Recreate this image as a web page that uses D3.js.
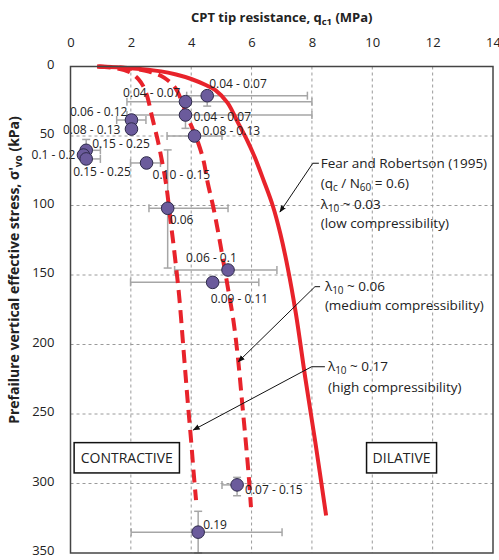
<!DOCTYPE html>
<html lang="en">
<head>
<meta charset="UTF-8">
<title>CPT tip resistance vs prefailure stress</title>
<script src="https://d3js.org/d3.v7.min.js"></script>
<style>
  body { margin: 0; background: #fff; }
  svg text { font-family: "Open Sans", sans-serif; fill: #222; }
  .grid line { stroke: #9a9a9a; stroke-dasharray: 3,3; stroke-width: 1; }
  .err { stroke: #a6a6a6; stroke-width: 1.5; fill: none; }
  .curve { fill: none; stroke: #e8232b; stroke-width: 4; }
  .curve.dash { stroke-dasharray: 13,7; }
  .pt { fill: #6b5b9c; stroke: #2e2a4a; stroke-width: 1; }
  .lbl { font-size: 12px; }
  .tick text { font-size: 13px; }
  .note { font-size: 13.5px; }
  .lead { stroke: #111; stroke-width: 1; fill: none; }
</style>
</head>
<body>
<svg width="499" height="560"></svg>
<script>
// data points (q_c1 in MPa, sigma'vo in kPa)
const ptLabels = ["0.04 - 0.07", "0.04 - 0.07", "0.04 - 0.07", "0.08 - 0.13", "0.06 - 0.12",
                  "0.08 - 0.13", "0.15 - 0.25", "0.1 - 0.2", "0.15 - 0.25", "0.10 - 0.15",
                  "0.06", "0.06 - 0.1", "0.09 - 0.11", "0.07 - 0.15", "0.19"];
const ptQc1   = [4.53, 3.81, 3.81, 4.11, 2.02, 2.02, 0.52, 0.43, 0.52, 2.52, 3.22, 5.22, 4.71, 5.52, 4.23];
const ptSigma = [21, 25.3, 34.9, 50, 38.5, 45, 60.3, 63.7, 66.5, 69.4, 102, 146.4, 155.3, 301, 335];
// error bars (null = none)
const errQLo = [3.85, 1.87, 1.87, 3.2, 1.53, null, 0.5, null, 0.5, 1.99, 2.6, 3.45, 1.99, 5.02, 2.01];
const errQHi = [7.85, 8.0, 8.0, 5.02, 2.5, null, 0.99, null, 0.99, 2.98, 5.22, 6.84, 6.24, 5.6, 7.01];
const errSLo = [21, null, 34.9, null, null, null, 52.5, null, null, null, 60, null, null, 295.6, 320];
const errSHi = [28.5, null, 44.5, null, null, null, 60.3, null, null, null, 145, null, null, 308.8, 350];

// curves as [q_c1, sigma'vo]
const frCurve = [[0.88, 0], [2.0, 1.2], [3.0, 3.5], [3.5, 5.8], [4.0, 9], [4.5, 13.5], [4.8, 17],
                 [5.2, 26], [5.54, 40], [5.85, 53], [6.1, 65], [6.4, 82], [6.7, 100], [6.95, 120],
                 [7.2, 145], [7.47, 178], [7.78, 224], [8.11, 270], [8.47, 323]];
const medCurve = [[0.95, 0], [1.8, 1], [2.6, 3.6], [3.1, 8], [3.48, 15.6], [3.72, 27], [3.85, 35],
                  [4.05, 45], [4.2, 53], [4.4, 67], [4.55, 84], [4.72, 100], [4.9, 120], [5.07, 141],
                  [5.23, 161], [5.4, 183], [5.55, 210], [5.68, 240], [5.8, 268], [5.9, 293], [5.98, 317]];
const highCurve = [[0.9, 0], [1.5, 1.2], [1.95, 4], [2.25, 9], [2.42, 14.5], [2.55, 22], [2.7, 36],
                   [2.9, 54], [3.04, 69], [3.17, 85], [3.31, 110], [3.45, 135], [3.6, 165], [3.75, 205],
                   [3.88, 240], [4.0, 270], [4.08, 292], [4.16, 312]];

const xTicks = [0, 2, 4, 6, 8, 10, 12, 14];
const yTicks = [0, 50, 100, 150, 200, 250, 300, 350];

// label placement (pixels from the point): dx, dy, anchor
const labelPos = [[2, -12, "start"], [-5, -9, "end"], [8, 2, "start"], [8, -5, "start"], [-4, -8, "end"],
                  [-11, 1, "end"], [6, -7, "start"], [-8, 0, "end"], [-13, 13, "start"], [6, 12, "start"],
                  [2, 12, "start"], [-42, -12, "start"], [-2, 16, "start"], [8, 5, "start"], [5, -7, "start"]];

const svg = d3.select("svg");
const x = d3.scaleLinear().domain([0, 14]).range([70.5, 493]);
const y = d3.scaleLinear().domain([0, 350]).range([66.5, 553]);

// grid
const grid = svg.append("g").attr("class", "grid");
grid.selectAll(".gx").data(xTicks.slice(1, -1)).join("line")
  .attr("x1", d => x(d)).attr("x2", d => x(d)).attr("y1", y(0)).attr("y2", y(350));
grid.selectAll(".gy").data(yTicks.slice(1, -1)).join("line")
  .attr("y1", d => y(d)).attr("y2", d => y(d)).attr("x1", x(0)).attr("x2", x(14));

// axes
svg.append("g").attr("transform", `translate(0,${y(0)})`)
  .call(d3.axisTop(x).tickValues(xTicks).tickSize(0).tickPadding(20))
  .call(g => g.select(".domain").remove());
svg.append("g").attr("transform", `translate(${x(0)},0)`)
  .call(d3.axisLeft(y).tickValues(yTicks).tickSize(0).tickPadding(16))
  .call(g => g.select(".domain").remove())
  .call(g => g.selectAll(".tick text").attr("dy", "0.15em"));

// helper for text with subscripts: parts = [[text, isSub], ...]
function richText(sel, parts, subSize) {
  parts.forEach(p => {
    if (p[1]) {
      sel.append("tspan").attr("baseline-shift", "-25%").attr("font-size", subSize).text(p[0]);
    } else {
      sel.append("tspan").text(p[0]);
    }
  });
}

const xTitle = svg.append("text").attr("x", (x(0) + x(14)) / 2).attr("y", 22)
  .attr("text-anchor", "middle").attr("font-weight", "bold").attr("font-size", 13);
richText(xTitle, [["CPT tip resistance, q", false], ["c1", true], ["  (MPa)", false]], 9.5);

const yTitle = svg.append("text").attr("transform", "translate(19,270) rotate(-90)")
  .attr("text-anchor", "middle").attr("font-weight", "bold").attr("font-size", 14);
richText(yTitle, [["Prefailure vertical effective stress, \u03c3'", false], ["vo", true], ["  (kPa)", false]], 10);

// error bars
const errG = svg.append("g").attr("class", "err");
const cap = 4;
ptQc1.forEach((q, i) => {
  const cy = y(ptSigma[i]);
  if (errQLo[i] !== null) {
    errG.append("line").attr("x1", x(errQLo[i])).attr("x2", x(errQHi[i])).attr("y1", cy).attr("y2", cy);
    [errQLo[i], errQHi[i]].forEach(v => errG.append("line")
      .attr("x1", x(v)).attr("x2", x(v)).attr("y1", cy - cap).attr("y2", cy + cap));
  }
  if (errSLo[i] !== null) {
    const cx = x(q);
    errG.append("line").attr("x1", cx).attr("x2", cx).attr("y1", y(errSLo[i])).attr("y2", y(errSHi[i]));
    [errSLo[i], errSHi[i]].forEach(v => errG.append("line")
      .attr("x1", cx - cap).attr("x2", cx + cap).attr("y1", y(v)).attr("y2", y(v)));
  }
});

// curves
const line = d3.line().x(d => x(d[0])).y(d => y(d[1])).curve(d3.curveCatmullRom);
svg.append("path").attr("class", "curve").attr("d", line(frCurve));
svg.append("path").attr("class", "curve dash").attr("d", line(medCurve));
svg.append("path").attr("class", "curve dash").attr("d", line(highCurve));

// points and labels
svg.append("g").selectAll("circle").data(ptQc1).join("circle").attr("class", "pt")
  .attr("cx", d => x(d)).attr("cy", (d, i) => y(ptSigma[i])).attr("r", 6.3);
svg.append("g").selectAll("text").data(ptLabels).join("text").attr("class", "lbl")
  .attr("x", (d, i) => x(ptQc1[i]) + labelPos[i][0])
  .attr("y", (d, i) => y(ptSigma[i]) + labelPos[i][1])
  .attr("dy", "0.35em").attr("text-anchor", (d, i) => labelPos[i][2]).text(d => d);

// plot border
svg.append("rect").attr("x", x(0)).attr("y", y(0)).attr("width", x(14) - x(0)).attr("height", y(350) - y(0))
  .attr("fill", "none").attr("stroke", "#444").attr("stroke-width", 1.5);

// region boxes
const boxes = [["CONTRACTIVE", 0.12, 3.61], ["DILATIVE", 9.81, 12.13]];
boxes.forEach(b => {
  svg.append("rect").attr("x", x(b[1])).attr("y", y(270.6)).attr("width", x(b[2]) - x(b[1]))
    .attr("height", y(292.4) - y(270.6)).attr("fill", "#fff").attr("stroke", "#111").attr("stroke-width", 1.5);
  svg.append("text").attr("x", (x(b[1]) + x(b[2])) / 2).attr("y", y(281.5)).attr("dy", "0.35em")
    .attr("text-anchor", "middle").attr("font-size", 14).text(b[0]);
});

// annotations with leader arrows
svg.append("defs").append("marker").attr("id", "arr").attr("viewBox", "0 0 10 10")
  .attr("refX", 9).attr("refY", 5).attr("markerWidth", 7).attr("markerHeight", 7).attr("orient", "auto")
  .append("path").attr("d", "M0,1 L10,5 L0,9 Z").attr("fill", "#111");

const notes = [
  { start: [8.23, 69.6], knee: [8.03, 69.6], tip: [6.94, 104.7], tx: 8.29,
    lines: [[[ "Fear and Robertson (1995)", false]], [["(q", false], ["c", true], [" / N", false], ["60", true], [" = 0.6)", false]],
            [["\u03bb", false], ["10", true], [" ~ 0.03", false]], [["(low compressibility)", false]]],
    ys: [69.6, 84, 98.9, 112.8] },
  { start: [8.27, 158.4], knee: [8.1, 158.4], tip: [5.56, 212.4], tx: 8.43,
    lines: [[["\u03bb", false], ["10", true], [" ~ 0.06", false]], [["(medium compressibility)", false]]],
    ys: [158.4, 171.6] },
  { start: [8.43, 216], knee: [7.99, 216], tip: [4.07, 261.5], tx: 8.53,
    lines: [[["\u03bb", false], ["10", true], [" ~ 0.17", false]], [["(high compressibility)", false]]],
    ys: [216, 230.8] }
];
notes.forEach(n => {
  svg.append("path").attr("class", "lead").attr("marker-end", "url(#arr)")
    .attr("d", d3.line()([[x(n.start[0]), y(n.start[1])], [x(n.knee[0]), y(n.knee[1])], [x(n.tip[0]), y(n.tip[1])]]));
  n.lines.forEach((ln, i) => {
    const t = svg.append("text").attr("class", "note").attr("x", x(n.tx)).attr("y", y(n.ys[i])).attr("dy", "0.35em");
    richText(t, ln, 10);
  });
});
</script>
</body>
</html>
